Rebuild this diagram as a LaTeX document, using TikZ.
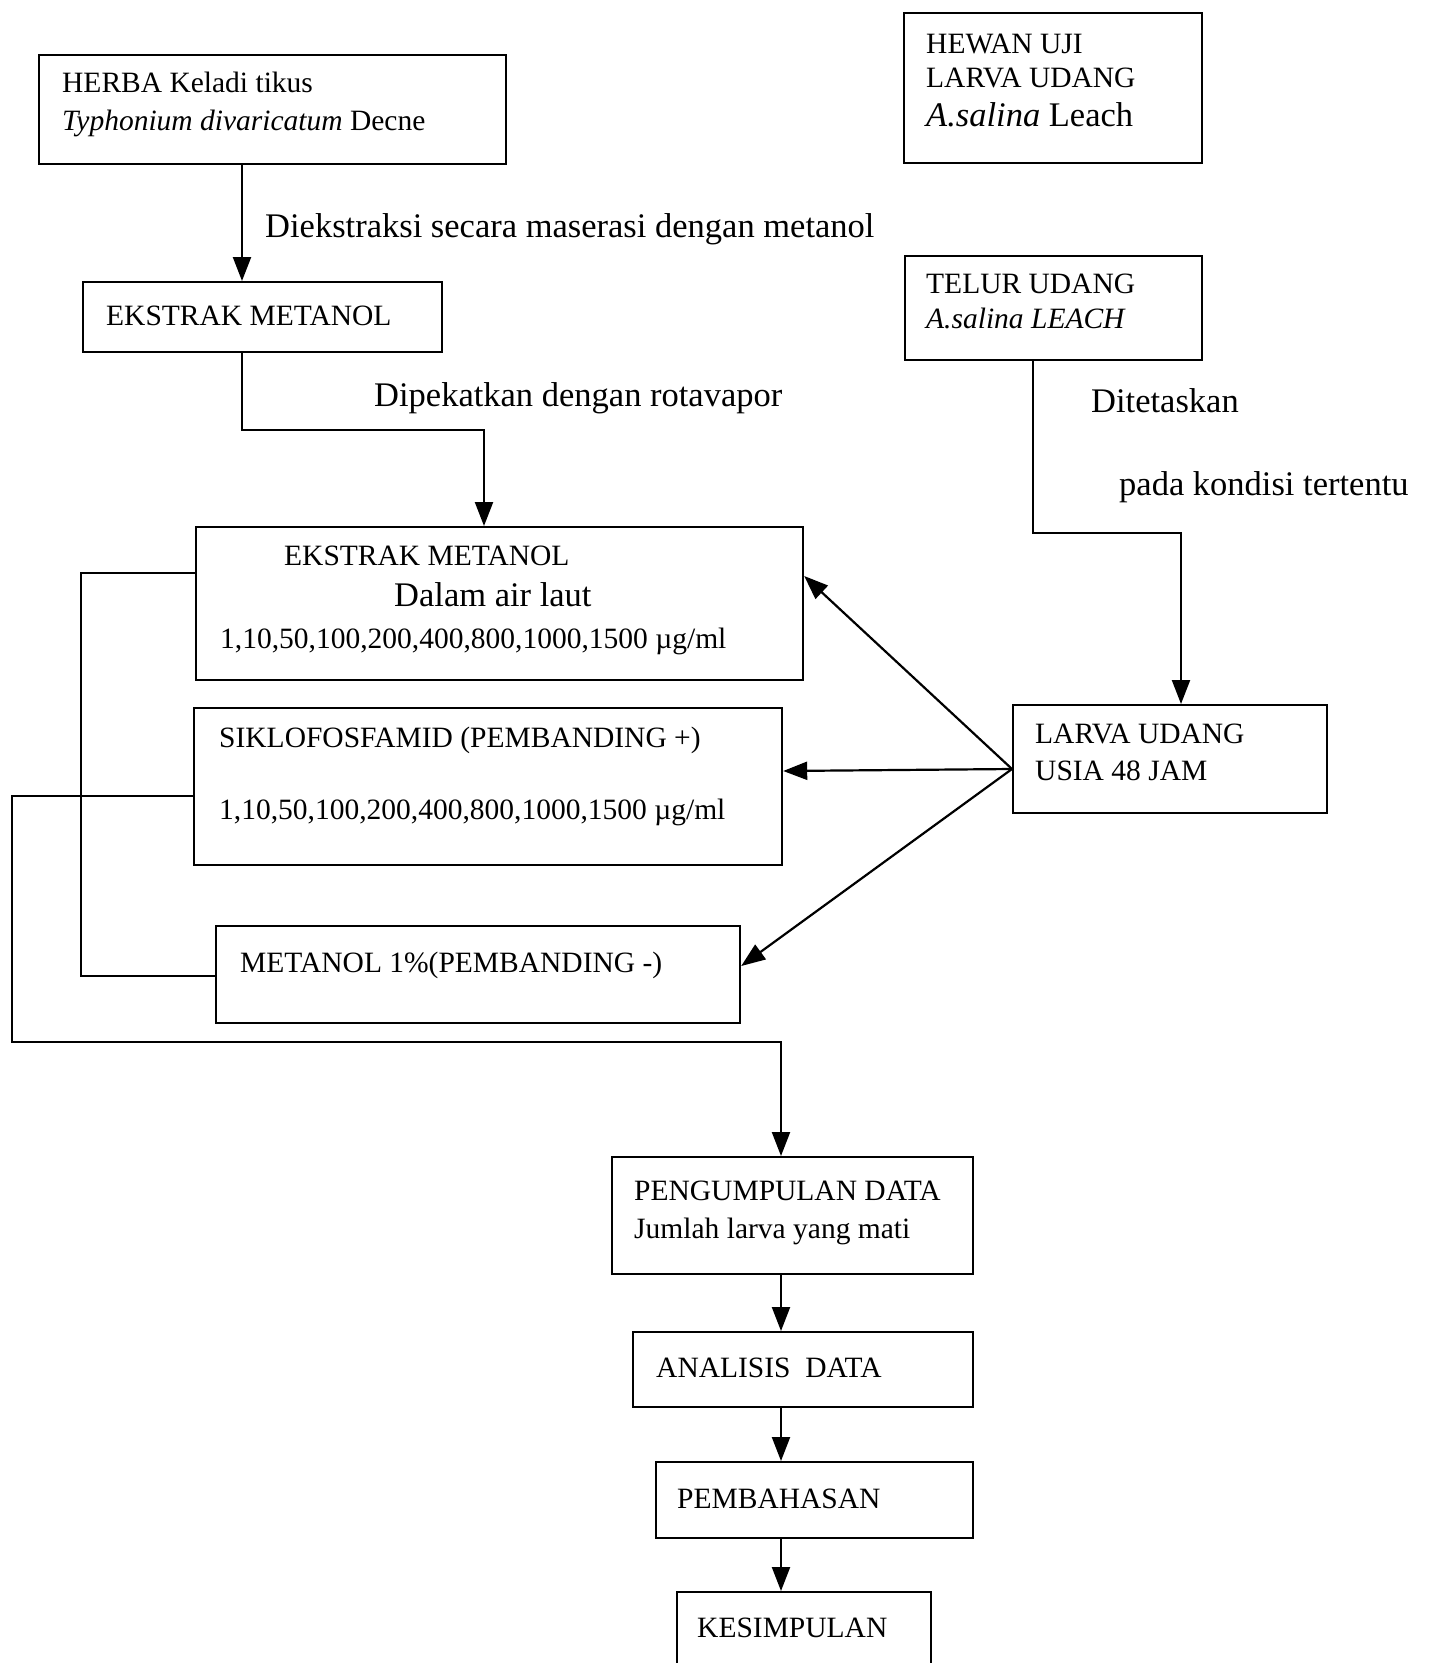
\documentclass[tikz,border=0pt]{standalone}
\usepackage{fontspec}
\setmainfont{Liberation Serif}
\usetikzlibrary{arrows.meta}
\tikzset{
  box/.style={draw, line width=2.2pt, rectangle, inner sep=0pt, anchor=north west},
  bt/.style={anchor=mid west, inner sep=0pt, font=\fontsize{29.5}{34}\selectfont},
  lt/.style={anchor=mid west, inner sep=0pt, font=\fontsize{34.5}{40}\selectfont},
  ln/.style={line width=2.2pt},
  arr/.style={line width=2.2pt, -{Triangle[length=24pt,width=18pt]}},
}
\begin{document}
\begin{tikzpicture}[x=1pt,y=-1pt]
\useasboundingbox (0,0) rectangle (1429,1663);
\clip (0,0) rectangle (1429,1663);
% boxes
\node[box, minimum width=467pt, minimum height=109pt] (herba) at (38,54) {};
\node[box, minimum width=359pt, minimum height=70pt] (ek1) at (82,281) {};
\node[box, minimum width=607pt, minimum height=153pt] (ek2) at (195,526) {};
\node[box, minimum width=588pt, minimum height=157pt] (siklo) at (193,707) {};
\node[box, minimum width=524pt, minimum height=97pt] (metn) at (215,925) {};
\node[box, minimum width=298pt, minimum height=150pt] (hewan) at (903,12) {};
\node[box, minimum width=297pt, minimum height=104pt] (telur) at (904,255) {};
\node[box, minimum width=314pt, minimum height=108pt] (larva) at (1012,704) {};
\node[box, minimum width=361pt, minimum height=117pt] (peng) at (611,1156) {};
\node[box, minimum width=340pt, minimum height=75pt] (anal) at (632,1331) {};
\node[box, minimum width=317pt, minimum height=76pt] (pemb) at (655,1461) {};
\node[box, minimum width=254pt, minimum height=99pt] (kesim) at (676,1591) {};
% texts
\node[bt] (th1) at (62,90) {HERBA Keladi tikus};
\node[bt] (th2) at (62,128) {\textit{Typhonium divaricatum} Decne};
\node[bt] (te1) at (106,323) {EKSTRAK METANOL};
\node[bt] (te2a) at (284,563) {EKSTRAK METANOL};
\node[lt] (te2b) at (394,604) {Dalam air laut};
\node[bt] (te2c) at (220,646) {1,10,50,100,200,400,800,1000,1500 µg/ml};
\node[bt] (ts1) at (219,745) {SIKLOFOSFAMID (PEMBANDING +)};
\node[bt] (ts2) at (219,817) {1,10,50,100,200,400,800,1000,1500 µg/ml};
\node[bt] (tm) at (240,970) {METANOL 1\%(PEMBANDING -)};
\node[bt] (tw1) at (926,51) {HEWAN UJI};
\node[bt] (tw2) at (926,85) {LARVA UDANG};
\node[lt] (tw3) at (926,124) {\textit{A.salina} Leach};
\node[bt] (tt1) at (926,291) {TELUR UDANG};
\node[bt] (tt2) at (926,326) {\textit{A.salina LEACH}};
\node[bt] (tl1) at (1035,741) {LARVA UDANG};
\node[bt] (tl2) at (1035,778) {USIA 48 JAM};
\node[bt] (tp1) at (634,1198) {PENGUMPULAN DATA};
\node[bt] (tp2) at (634,1236) {Jumlah larva yang mati};
\node[bt] (ta) at (656,1375) {ANALISIS\ \ DATA};
\node[bt] (tb) at (677,1506) {PEMBAHASAN};
\node[bt] (tk) at (697,1635) {KESIMPULAN};
% labels
\node[lt] (lab1) at (265,235) {Diekstraksi secara maserasi dengan metanol};
\node[lt] (lab2) at (374,404) {Dipekatkan dengan rotavapor};
\node[lt] (lab3) at (1091,410) {Ditetaskan};
\node[lt] (lab4) at (1119,493) {pada kondisi tertentu};
% coordinates
\coordinate (c1) at (242,0);
\coordinate (k1) at (242,430);
\coordinate (k2) at (484,430);
\coordinate (l1a) at (81,573);
\coordinate (l1b) at (81,976);
\coordinate (l2a) at (12,796);
\coordinate (l2b) at (12,1042);
\coordinate (l2c) at (781,1042);
\coordinate (t1) at (1033,533);
\coordinate (t2) at (1181,533);
\coordinate (a0) at (0,769);
\coordinate (a1) at (0,576);
\coordinate (a2) at (0,771);
\coordinate (a3) at (0,966);
\coordinate (lw) at (larva.west |- a0);
% connectors
\draw[arr] (herba.south -| c1) -- (ek1.north -| c1);
\draw[arr] (ek1.south -| k1) -- (k1) -- (k2) -- (ek2.north -| k2);
\draw[ln] (ek2.west |- l1a) -- (l1a) -- (l1b) -- (metn.west |- l1b);
\draw[arr] (siklo.west |- l2a) -- (l2a) -- (l2b) -- (l2c) -- (peng.north -| l2c);
\draw[arr] (telur.south -| t1) -- (t1) -- (t2) -- (larva.north -| t2);
\draw[arr] (lw) -- (ek2.east |- a1);
\draw[arr] (lw) -- (siklo.east |- a2);
\draw[arr] (lw) -- (metn.east |- a3);
\draw[arr] (peng.south -| l2c) -- (anal.north -| l2c);
\draw[arr] (anal.south -| l2c) -- (pemb.north -| l2c);
\draw[arr] (pemb.south -| l2c) -- (kesim.north -| l2c);
\end{tikzpicture}
\end{document}
